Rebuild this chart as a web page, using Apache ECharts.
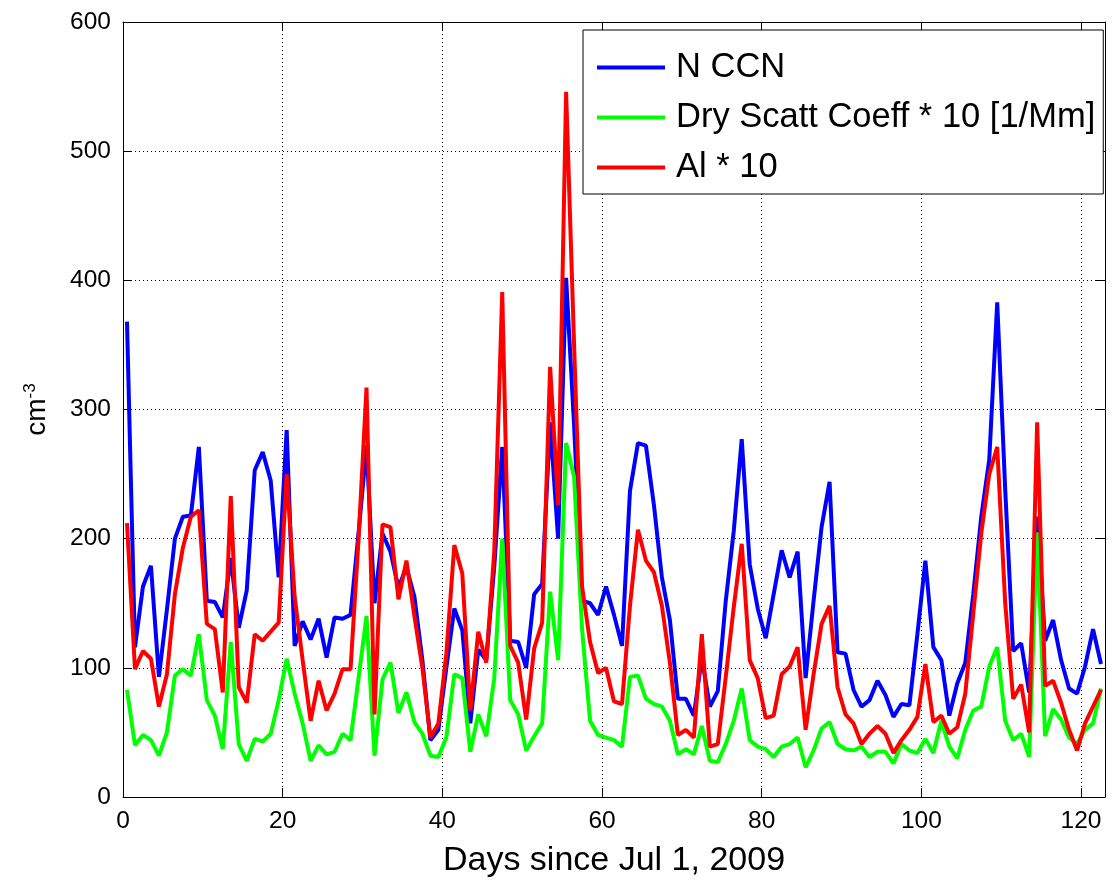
<!DOCTYPE html>
<html>
<head>
<meta charset="utf-8">
<script src="https://cdn.jsdelivr.net/npm/echarts@6/dist/echarts.min.js"></script>
<style>
html,body{margin:0;padding:0;background:#fff;}
#chart{width:1115px;height:892px;}
</style>
</head>
<body>
<div id="chart"></div>
<script>
// Daily values (day index d plotted at d + 0.5 days since Jul 1, 2009)
const nCCN = [368,116,163,179,93,145,200,217,218,271,152,151,139,185,131,160,253,267,245,170,
  284,117,136,122,138,108,139,138,141,204,272,150,204,190,162,178,155,106,44,52,
  100,146,129,57,114,106,178,271,121,120,100,157,165,290,200,402,288,152,150,141,
  163,141,117,237,274,272,226,170,137,76,76,63,108,70,82,152,206,277,180,146,
  123,157,191,170,190,92,152,209,244,112,111,83,70,75,90,79,62,72,71,126,
  183,116,106,63,88,104,157,217,261,383,238,113,119,81,217,121,137,106,84,80,
  101,130,103];
const dryScatt = [83,40,48,44,32,50,94,99,94,126,75,63,37,120,41,28,45,43,49,75,
  107,80,57,28,40,33,35,49,44,92,140,32,91,104,65,81,58,49,32,31,
  46,95,92,35,64,47,92,200,75,64,36,47,57,159,106,274,248,130,59,48,
  46,44,39,93,94,76,72,70,59,33,37,33,55,28,27,41,59,84,44,39,
  37,31,39,41,46,23,36,53,58,41,37,36,39,31,35,35,26,41,36,34,
  45,34,59,39,30,52,67,70,101,116,59,44,49,31,205,47,68,60,46,41,
  52,57,84];
const alx10 = [212,99,113,107,70,95,157,193,217,222,134,130,81,233,85,73,126,121,128,135,
  250,155,106,59,90,67,80,99,99,199,317,64,211,209,153,183,140,100,46,57,
  111,195,173,67,128,104,190,391,117,104,60,115,135,333,226,546,350,163,120,96,
  100,74,72,148,207,183,174,148,104,48,52,46,126,39,41,93,147,196,106,92,
  61,63,95,101,116,52,95,134,148,85,64,57,41,49,55,49,34,44,52,62,
  103,58,63,49,54,80,142,204,250,271,150,76,87,50,290,86,90,73,52,36,
  57,70,83];
const days = nCCN.map((_, i) => i + 0.5);
const xTicks = [0, 20, 40, 60, 80, 100, 120];
const yTicks = [0, 100, 200, 300, 400, 500, 600];
const seriesNames = ['N CCN', 'Dry Scatt Coeff * 10 [1/Mm]', 'Al * 10'];

const FONT = 'Liberation Sans, Arial, Helvetica, sans-serif';
const pairs = arr => arr.map((v, i) => [days[i], v]);

const chart = echarts.init(document.getElementById('chart'), null, {renderer: 'canvas'});
const axisCommon = {
  axisLine: {show: true, onZero: false, lineStyle: {color: '#000', width: 1}},
  axisTick: {show: true, inside: true, length: 9, lineStyle: {color: '#000', width: 1}}
};
const gridLine = {show: true, lineStyle: {type: [1, 3], color: '#000', width: 1}};
chart.setOption({
  animation: false,
  backgroundColor: '#fff',
  grid: {left: 123, right: 10, top: 22, bottom: 95, containLabel: false},
  legend: {
    orient: 'vertical', left: 583, top: 30,
    data: seriesNames.map(n => ({name: n, icon: 'rect'})),
    backgroundColor: '#fff', borderColor: '#000', borderWidth: 1,
    padding: [20, 8, 9, 14], itemGap: 15, itemWidth: 68, itemHeight: 4,
    textStyle: {fontFamily: FONT, fontSize: 34.5, lineHeight: 34, color: '#000', padding: [0, 0, 0, 6]}
  },
  xAxis: [{
    type: 'value', min: 0, max: 123, interval: 20, position: 'bottom',
    name: 'Days since Jul 1, 2009', nameLocation: 'middle', nameGap: 47,
    nameTextStyle: {fontFamily: FONT, fontSize: 34, color: '#000'},
    axisLabel: {fontFamily: FONT, fontSize: 24.5, color: '#000', margin: 12, showMaxLabel: false},
    splitLine: gridLine,
    ...axisCommon
  }, {
    type: 'value', min: 0, max: 123, interval: 20, position: 'top',
    axisLabel: {show: false}, splitLine: {show: false},
    ...axisCommon
  }],
  yAxis: [{
    type: 'value', min: 0, max: 600, interval: 100, position: 'left',
    name: '{a|cm}{b|-3}', nameLocation: 'middle', nameGap: 70, nameRotate: 90,
    nameTextStyle: {rich: {
      a: {fontFamily: FONT, fontSize: 28, color: '#000'},
      b: {fontFamily: FONT, fontSize: 17, color: '#000', verticalAlign: 'top', padding: [0,0,14,0]}
    }},
    axisLabel: {fontFamily: FONT, fontSize: 24.5, color: '#000', margin: 12},
    splitLine: gridLine,
    ...axisCommon
  }, {
    type: 'value', min: 0, max: 600, interval: 100, position: 'right',
    axisLabel: {show: false}, splitLine: {show: false},
    ...axisCommon
  }],
  series: [
    {name: seriesNames[0], type: 'line', data: pairs(nCCN), showSymbol: false, symbol: 'none',
     lineStyle: {color: '#0000ff', width: 4}, itemStyle: {color: '#0000ff'}, z: 2},
    {name: seriesNames[1], type: 'line', data: pairs(dryScatt), showSymbol: false, symbol: 'none',
     lineStyle: {color: '#00ff00', width: 4}, itemStyle: {color: '#00ff00'}, z: 3},
    {name: seriesNames[2], type: 'line', data: pairs(alx10), showSymbol: false, symbol: 'none',
     lineStyle: {color: '#ff0000', width: 4}, itemStyle: {color: '#ff0000'}, z: 4}
  ]
});
</script>
</body>
</html>
